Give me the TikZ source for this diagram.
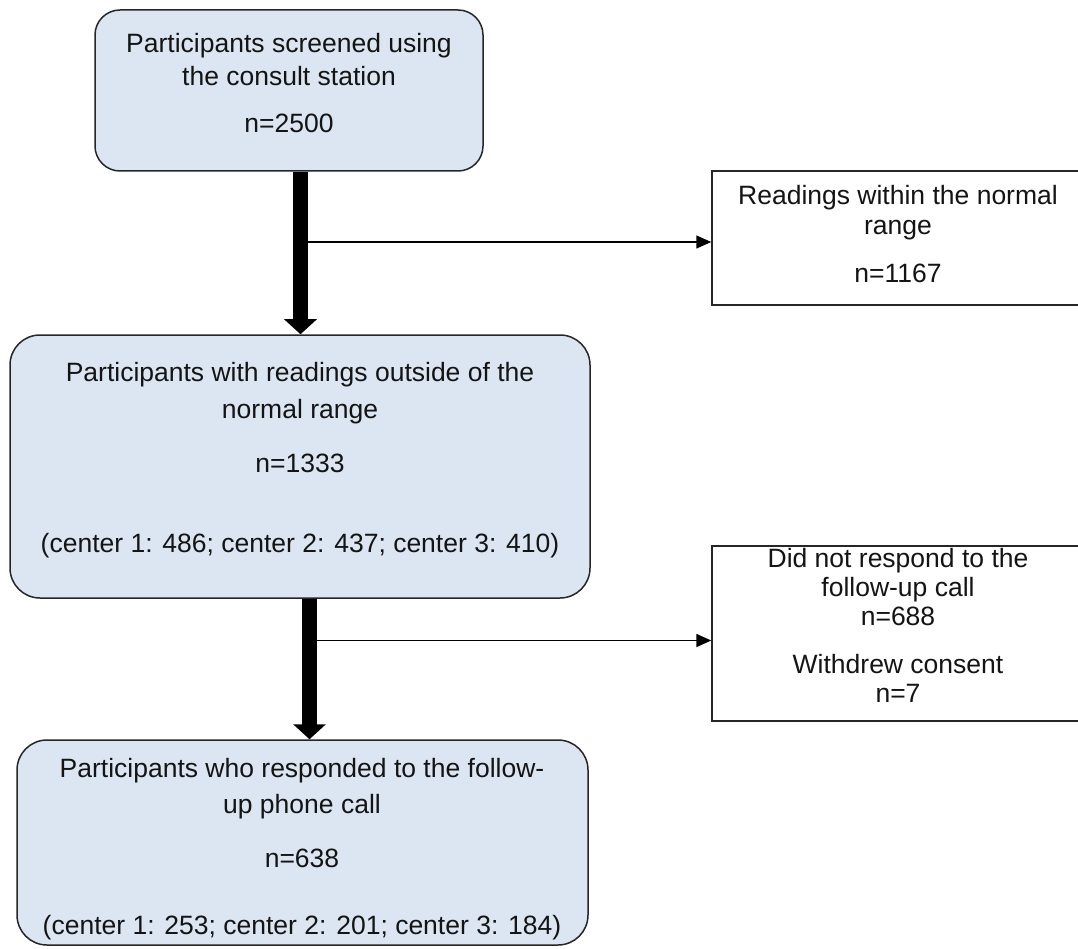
\documentclass[tikz,border=0pt]{standalone}
\usepackage{fontspec}
\setmainfont{Liberation Sans}
\usetikzlibrary{arrows.meta}
\definecolor{boxblue}{HTML}{DCE6F2}
\definecolor{edgegray}{HTML}{262626}
\begin{document}
\begin{tikzpicture}[x=1pt,y=-1pt,
  bluebox/.style={rectangle,draw=edgegray,line width=1.5pt,fill=boxblue,rounded corners=#1,inner sep=0pt},
  whitebox/.style={rectangle,draw=edgegray,line width=1.5pt,fill=white,inner sep=0pt},
  lbl/.style={anchor=base,inner sep=0pt,font=\fontsize{26.5}{30}\selectfont,text=black!92},
  bigarrow/.style={line width=15pt,-{Triangle[width=32pt,length=15pt]}},
  smallarrow/.style={line width=1.5pt,-{Triangle[width=13pt,length=15pt]}}]
\fill[white] (0,0) rectangle (1078,949);
\useasboundingbox (0,0) rectangle (1078,949);

% boxes
\node[bluebox=25pt, minimum width=388pt, minimum height=161pt] (b1) at (289,90.5) {};
\node[bluebox=30pt, minimum width=580pt, minimum height=263pt] (b2) at (300,466.5) {};
\node[bluebox=30pt, minimum width=571pt, minimum height=205pt] (b3) at (302.5,842.5) {};
\node[whitebox, minimum width=372pt, minimum height=134pt] (rb1) at (898,238) {};
\node[whitebox, minimum width=372pt, minimum height=175pt] (rb2) at (898,633.5) {};

% texts
\node[lbl] (t1a) at (289,53) {Participants screened using};
\node[lbl] (t1b) at (289,86) {the consult station};
\node[lbl] (t1c) at (289,133) {n=2500};

\node[lbl] (t2a) at (300,381) {Participants with readings outside of the};
\node[lbl] (t2b) at (300,418) {normal range};
\node[lbl] (t2c) at (300,472) {n=1333};
\node[lbl] (t2d) at (300,552) {(center 1: 486; center 2: 437; center 3: 410)};

\node[lbl] (t3a) at (302,777) {Participants who responded to the follow-};
\node[lbl] (t3b) at (302,813) {up phone call};
\node[lbl] (t3c) at (302,867) {n=638};
\node[lbl] (t3d) at (302,934) {(center 1: 253; center 2: 201; center 3: 184)};

\node[lbl] (r1a) at (898,205) {Readings within the normal};
\node[lbl] (r1b) at (898,235) {range};
\node[lbl] (r1c) at (898,283) {n=1167};

\node[lbl] (r2a) at (898,567) {Did not respond to the};
\node[lbl] (r2b) at (898,596) {follow-up call};
\node[lbl] (r2c) at (898,625) {n=688};
\node[lbl] (r2d) at (898,673) {Withdrew consent};
\node[lbl] (r2e) at (898,702) {n=7};

% connectors
\coordinate (x1) at (300.5,242);
\coordinate (x2) at (309.5,640.5);
\draw[bigarrow] (b1.south -| x1) -- (b2.north -| x1);
\draw[smallarrow] ([xshift=7.5pt]x1) -- (x1 -| rb1.west);
\draw[bigarrow] (b2.south -| x2) -- (b3.north -| x2);
\draw[smallarrow] ([xshift=7.5pt]x2) -- (x2 -| rb2.west);
\end{tikzpicture}
\end{document}
